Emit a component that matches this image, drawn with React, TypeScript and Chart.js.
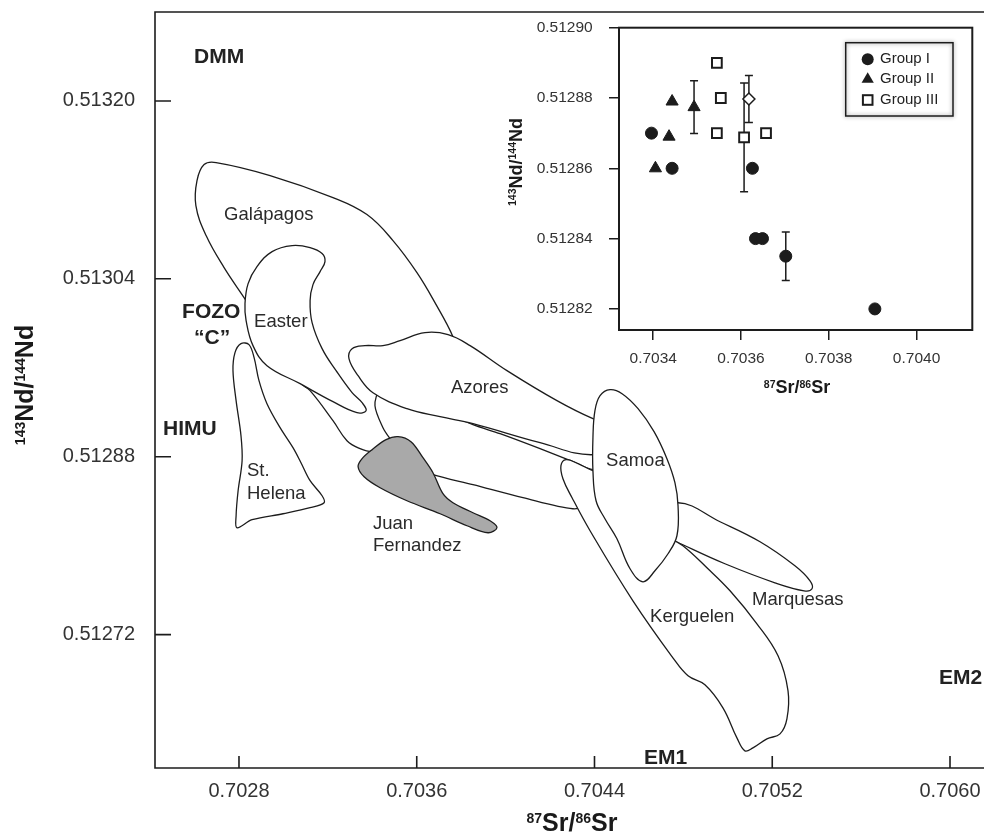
import React, { useEffect, useRef } from "react";
import { Chart, registerables } from "chart.js";

Chart.register(...registerables);

const FONT = '"Liberation Sans", Arial, Helvetica, sans-serif';
const INK = "#1c1c1c";
const TEXT = "#2a2a2a";

type Pair = [number, number];

// ---------- main diagram: axis ticks ----------
const srTicks = [0.7028, 0.7036, 0.7044, 0.7052, 0.706];
const ndTicks = [0.51272, 0.51288, 0.51304, 0.5132];

// ---------- OIB fields: outline vertices as [87Sr/86Sr, 143Nd/144Nd] ----------
const galapagos: Pair[] = [
  [0.703705, 0.5129556], [0.703547, 0.5129034], [0.703457, 0.5128872], [0.703399, 0.5128845],
  [0.703345, 0.5128872], [0.703286, 0.5128944], [0.703223, 0.5129124], [0.70312, 0.5129394],
  [0.703075, 0.5129466], [0.702949, 0.5129844], [0.702832, 0.5130204], [0.702733, 0.5130501],
  [0.702652, 0.5130789], [0.702606, 0.5131059], [0.702611, 0.5131284], [0.702643, 0.5131428],
  [0.702697, 0.5131446], [0.70294, 0.5131329], [0.703223, 0.5131131], [0.703376, 0.5130978],
  [0.703493, 0.5130744], [0.703601, 0.5130456], [0.703682, 0.5130186], [0.703763, 0.512988],
  [0.703786, 0.5129709],
];

const centralField: Pair[] = [
  [0.704492, 0.5128674], [0.704393, 0.5128683], [0.704303, 0.5128755], [0.704155, 0.5128872],
  [0.703975, 0.5129007], [0.703853, 0.5129088], [0.703705, 0.5129214], [0.703525, 0.512934],
  [0.703435, 0.5129394], [0.703412, 0.5129259], [0.703448, 0.5129061], [0.70348, 0.5128962],
  [0.703547, 0.5128791], [0.703651, 0.5128674], [0.703673, 0.5128638], [0.703853, 0.5128548],
  [0.704078, 0.5128431], [0.704303, 0.5128332], [0.704389, 0.5128386],
];

const azores: Pair[] = [
  [0.704515, 0.5128944], [0.704393, 0.5128818], [0.704155, 0.5128926], [0.703853, 0.5129097],
  [0.703705, 0.512916], [0.703556, 0.5129232], [0.703403, 0.5129376], [0.703336, 0.5129529],
  [0.703295, 0.5129682], [0.703309, 0.5129772], [0.703367, 0.5129799], [0.703448, 0.5129799],
  [0.703525, 0.5129844], [0.703637, 0.5129916], [0.703741, 0.5129898], [0.70384, 0.5129799],
  [0.704006, 0.5129574], [0.704231, 0.5129304], [0.704393, 0.5129142], [0.704492, 0.5129079],
];

const easter: Pair[] = [
  [0.703372, 0.5129214], [0.703331, 0.5129196], [0.703223, 0.5129295], [0.703075, 0.5129457],
  [0.702926, 0.5129619], [0.702863, 0.5129799], [0.702832, 0.5130024], [0.702827, 0.5130177],
  [0.702841, 0.5130357], [0.702881, 0.513051], [0.702949, 0.5130645], [0.703039, 0.5130699],
  [0.70312, 0.5130681], [0.703174, 0.5130627], [0.703187, 0.5130555], [0.703165, 0.5130465],
  [0.703133, 0.5130348], [0.70312, 0.5130204], [0.703129, 0.5130006], [0.703174, 0.5129772],
  [0.703237, 0.5129574], [0.703309, 0.5129376], [0.703354, 0.5129286],
];

const stHelena: Pair[] = [
  [0.702791, 0.5128161], [0.702859, 0.5128233], [0.702998, 0.5128287], [0.70312, 0.5128341],
  [0.703183, 0.5128386], [0.703174, 0.5128449], [0.70312, 0.5128584], [0.703079, 0.5128746],
  [0.703043, 0.5128881], [0.702985, 0.5129061], [0.702926, 0.5129277], [0.70289, 0.5129484],
  [0.702868, 0.5129691], [0.702845, 0.5129808], [0.702809, 0.5129817], [0.702782, 0.5129736],
  [0.702773, 0.5129574], [0.702787, 0.5129304], [0.702809, 0.5128989], [0.702814, 0.5128764],
  [0.702796, 0.5128494], [0.702787, 0.5128269],
];

const marquesas: Pair[] = [
  [0.704695, 0.5128224], [0.704776, 0.5128386], [0.704965, 0.5128215], [0.705145, 0.5128035],
  [0.705302, 0.5127819], [0.70537, 0.5127684], [0.705379, 0.5127612], [0.705343, 0.5127594],
  [0.705212, 0.5127666], [0.704987, 0.5127837], [0.704798, 0.5128008], [0.704717, 0.5128089],
];

const kerguelen: Pair[] = [
  [0.704537, 0.5128584], [0.704393, 0.5128674], [0.704326, 0.5128737], [0.704272, 0.5128773],
  [0.704249, 0.5128719], [0.704258, 0.5128602], [0.704299, 0.5128431], [0.70438, 0.5128134],
  [0.704573, 0.5127504], [0.704753, 0.5126991], [0.704821, 0.5126829], [0.704897, 0.5126748],
  [0.704978, 0.5126541], [0.705041, 0.5126271], [0.705077, 0.5126154], [0.705113, 0.5126181],
  [0.705176, 0.5126262], [0.705235, 0.5126307], [0.705266, 0.5126442], [0.705271, 0.5126694],
  [0.705226, 0.5127009], [0.705131, 0.5127297], [0.70501, 0.5127594], [0.704906, 0.5127801],
  [0.704798, 0.5127999], [0.704695, 0.5128134],
];

const samoa: Pair[] = [
  [0.704618, 0.5127675], [0.70456, 0.5127792], [0.704501, 0.5128062], [0.704447, 0.5128242],
  [0.704407, 0.5128404], [0.704393, 0.5128674], [0.704393, 0.5128971], [0.704402, 0.5129214],
  [0.704425, 0.5129349], [0.70447, 0.5129403], [0.704524, 0.5129367], [0.704596, 0.5129232],
  [0.704668, 0.5129025], [0.704726, 0.5128782], [0.704762, 0.5128566], [0.704776, 0.5128359],
  [0.704771, 0.5128089], [0.704731, 0.5127927], [0.704672, 0.5127774],
];

const juanFernandez: Pair[] = [
  [0.703961, 0.5128161], [0.703921, 0.5128116], [0.703826, 0.5128179], [0.703705, 0.5128287],
  [0.703556, 0.5128404], [0.703435, 0.5128521], [0.703363, 0.512862], [0.703336, 0.512871],
  [0.703354, 0.5128782], [0.703399, 0.5128863], [0.703462, 0.5128953], [0.703516, 0.512898],
  [0.703574, 0.5128935], [0.703628, 0.5128791], [0.703673, 0.5128656], [0.703718, 0.5128467],
  [0.703763, 0.5128386], [0.703853, 0.5128296], [0.70393, 0.5128224],
];

// field names, anchored at their left end
const fieldLabels = [
  { text: "Galápagos", sr: 0.702733, nd: 0.5130978 },
  { text: "Easter", sr: 0.702868, nd: 0.5130015 },
  { text: "Azores", sr: 0.703754, nd: 0.5129421 },
  { text: "St.", sr: 0.702836, nd: 0.5128674 },
  { text: "Helena", sr: 0.702836, nd: 0.5128467 },
  { text: "Juan", sr: 0.703403, nd: 0.5128197 },
  { text: "Fernandez", sr: 0.703403, nd: 0.5127999 },
  { text: "Samoa", sr: 0.704452, nd: 0.5128764 },
  { text: "Marquesas", sr: 0.705109, nd: 0.5127513 },
  { text: "Kerguelen", sr: 0.70465, nd: 0.512736 },
];

// mantle end-members
const endMembers = [
  { text: "DMM", sr: 0.702598, nd: 0.5132391, align: "left" },
  { text: "FOZO", sr: 0.702544, nd: 0.5130096, align: "left" },
  { text: "“C”", sr: 0.702679, nd: 0.5129862, align: "center" },
  { text: "HIMU", sr: 0.702458, nd: 0.5129043, align: "left" },
  { text: "EM1", sr: 0.704623, nd: 0.5126091, align: "left" },
  { text: "EM2", sr: 0.70595, nd: 0.5126811, align: "left" },
];

// ---------- inset: Juan Fernandez samples ----------
const insetSrTicks = [0.7034, 0.7036, 0.7038, 0.704];
const insetNdTicks = [0.51282, 0.51284, 0.51286, 0.51288, 0.5129];

const groupISr = [0.703396, 0.703443, 0.703626, 0.703633, 0.703649, 0.703702, 0.703905];
const groupINd = [0.51287, 0.51286, 0.51286, 0.51284, 0.51284, 0.512835, 0.51282];
const groupIErr = [0, 0, 0, 0, 0, 0.0000069, 0];

const groupIISr = [0.703443, 0.703436, 0.703405, 0.703493];
const groupIINd = [0.512879, 0.512869, 0.51286, 0.5128774];
const groupIIErr = [0, 0, 0, 0.0000075];

const groupIIISr = [0.703545, 0.703554, 0.703545, 0.703607, 0.703657];
const groupIIINd = [0.51289, 0.51288, 0.51287, 0.5128688, 0.51287];
const groupIIIErr = [0, 0, 0, 0.0000155, 0];

const meanSr = [0.703618];
const meanNd = [0.5128797];
const meanErr = [0.0000067];

type Run = [string, boolean];
const ndTitle: Run[] = [["143", true], ["Nd/", false], ["144", true], ["Nd", false]];
const srTitle: Run[] = [["87", true], ["Sr/", false], ["86", true], ["Sr", false]];

function drawRuns(ctx: CanvasRenderingContext2D, runs: Run[], cx: number, baseline: number, size: number, supSize: number) {
  const main = `bold ${size}px ${FONT}`;
  const sup = `bold ${supSize}px ${FONT}`;
  const widths = runs.map(([t, s]) => {
    ctx.font = s ? sup : main;
    return ctx.measureText(t).width;
  });
  const total = widths.reduce((a, b) => a + b, 0);
  const rise = 0.716 * (size - supSize);
  let x = cx - total / 2;
  ctx.textAlign = "left";
  ctx.textBaseline = "alphabetic";
  runs.forEach(([t, s], i) => {
    ctx.font = s ? sup : main;
    ctx.fillText(t, x, s ? baseline - rise : baseline);
    x += widths[i];
  });
}

// fixed axis box sizes; label overhang must not shrink the plot area
const fixWidth = (w: number) => (s: any) => {
  s.width = w;
  s.paddingTop = 0;
  s.paddingBottom = 0;
  s.paddingLeft = 0;
  s.paddingRight = 0;
};
const fixHeight = (h: number) => (s: any) => {
  s.height = h;
  s.paddingTop = 0;
  s.paddingBottom = 0;
  s.paddingLeft = 0;
  s.paddingRight = 0;
};

// Turns every line dataset into a closed, smoothly joined outline.
const closedOutlines = {
  id: "closedOutlines",
  afterDatasetsUpdate(chart: any) {
    chart.data.datasets.forEach((_: any, i: number) => {
      const line = chart.getDatasetMeta(i).dataset;
      if (line) {
        line._loop = true;
        line._fullLoop = true;
        line._segments = undefined;
        line._path = undefined;
        line._pointsUpdated = false;
      }
    });
  },
};

const mainDecor = {
  id: "mainDecor",
  afterDatasetsDraw(chart: any) {
    const { ctx, scales } = chart;
    const x = scales.x;
    const y = scales.y;
    ctx.save();
    ctx.fillStyle = TEXT;
    ctx.textBaseline = "middle";
    ctx.textAlign = "left";
    ctx.font = `18.5px ${FONT}`;
    fieldLabels.forEach((l) => ctx.fillText(l.text, x.getPixelForValue(l.sr), y.getPixelForValue(l.nd)));
    ctx.font = `bold 21px ${FONT}`;
    ctx.fillStyle = "#222";
    endMembers.forEach((l) => {
      ctx.textAlign = l.align;
      ctx.fillText(l.text, x.getPixelForValue(l.sr), y.getPixelForValue(l.nd));
    });
    ctx.restore();
  },
  afterDraw(chart: any) {
    const { ctx, chartArea: a, scales } = chart;
    const x = scales.x;
    const y = scales.y;
    ctx.save();
    ctx.strokeStyle = INK;
    ctx.lineWidth = 1.6;
    ctx.beginPath();
    ctx.moveTo(a.right + 2, a.top);
    ctx.lineTo(a.left, a.top);
    ctx.lineTo(a.left, a.bottom);
    ctx.lineTo(a.right + 2, a.bottom);
    srTicks.forEach((v) => {
      const px = x.getPixelForValue(v);
      ctx.moveTo(px, a.bottom);
      ctx.lineTo(px, a.bottom - 12);
    });
    ndTicks.forEach((v) => {
      const py = y.getPixelForValue(v);
      ctx.moveTo(a.left, py);
      ctx.lineTo(a.left + 16, py);
    });
    ctx.stroke();

    ctx.fillStyle = "#1a1a1a";
    drawRuns(ctx, srTitle, 572, 831, 25, 14);
    ctx.save();
    ctx.translate(33, 385);
    ctx.rotate(-Math.PI / 2);
    drawRuns(ctx, ndTitle, 0, 0, 25, 14);
    ctx.restore();
    ctx.restore();
  },
};

function MainDiagram() {
  const ref = useRef<HTMLCanvasElement>(null);
  useEffect(() => {
    const canvas = ref.current;
    if (!canvas) return;
    const layers = [
      { pts: galapagos, fill: "#ffffff", tension: 0.4 },
      { pts: centralField, fill: "#ffffff", tension: 0.3 },
      { pts: azores, fill: "#ffffff", tension: 0.4 },
      { pts: easter, fill: "#ffffff", tension: 0.4 },
      { pts: stHelena, fill: "#ffffff", tension: 0.35 },
      { pts: marquesas, fill: "#ffffff", tension: 0.4 },
      { pts: kerguelen, fill: "#ffffff", tension: 0.4 },
      { pts: samoa, fill: "#ffffff", tension: 0.4 },
      { pts: juanFernandez, fill: "#a9a9a9", tension: 0.35 },
    ];
    const chart = new Chart(canvas, {
      type: "line",
      data: {
        datasets: layers.map((l, i) => ({
          data: l.pts.map(([sr, nd]) => ({ x: sr, y: nd })),
          borderColor: INK,
          borderWidth: 1.3,
          backgroundColor: l.fill,
          fill: "shape",
          pointRadius: 0,
          pointHoverRadius: 0,
          tension: l.tension,
          order: layers.length - i,
        })),
      },
      options: {
        responsive: false,
        animation: false,
        events: [],
        layout: { padding: { top: 12, left: 0, right: 0, bottom: 0 } },
        plugins: { legend: { display: false }, tooltip: { enabled: false } },
        scales: {
          x: {
            type: "linear",
            min: 0.702422,
            max: 0.706153,
            afterBuildTicks: (s: any) => {
              s.ticks = srTicks.map((value) => ({ value }));
            },
            afterFit: fixHeight(67),
            ticks: {
              callback: (v: any) => Number(v).toFixed(4),
              font: { family: FONT, size: 20 },
              color: "#333",
              padding: 11,
              autoSkip: false,
              maxRotation: 0,
            },
            grid: { display: false, drawTicks: false, tickLength: 0 },
            border: { display: false },
          },
          y: {
            type: "linear",
            min: 0.5126,
            max: 0.51328,
            afterBuildTicks: (s: any) => {
              s.ticks = ndTicks.map((value) => ({ value }));
            },
            afterFit: fixWidth(155),
            ticks: {
              callback: (v: any) => Number(v).toFixed(5),
              font: { family: FONT, size: 20 },
              color: "#333",
              padding: 20,
              autoSkip: false,
            },
            grid: { display: false, drawTicks: false, tickLength: 0 },
            border: { display: false },
          },
        },
      },
      plugins: [closedOutlines, mainDecor],
    } as any);
    return () => chart.destroy();
  }, []);
  return <canvas ref={ref} width={984} height={835} style={{ position: "absolute", left: 0, top: 0 }} />;
}

const toPoints = (xs: number[], ys: number[]) => xs.map((x, i) => ({ x, y: ys[i] }));
const errorSets = [groupIErr, groupIIErr, groupIIIErr, meanErr];

const insetDecor = {
  id: "insetDecor",
  beforeDatasetsDraw(chart: any) {
    const { ctx, scales } = chart;
    const x = scales.x;
    const y = scales.y;
    ctx.save();
    ctx.strokeStyle = INK;
    ctx.lineWidth = 1.5;
    ctx.beginPath();
    chart.data.datasets.forEach((ds: any, i: number) => {
      ds.data.forEach((p: any, j: number) => {
        const e = errorSets[i][j];
        if (!e) return;
        const px = x.getPixelForValue(p.x);
        const top = y.getPixelForValue(p.y + e);
        const bot = y.getPixelForValue(p.y - e);
        ctx.moveTo(px, top);
        ctx.lineTo(px, bot);
        ctx.moveTo(px - 4, top);
        ctx.lineTo(px + 4, top);
        ctx.moveTo(px - 4, bot);
        ctx.lineTo(px + 4, bot);
      });
    });
    ctx.stroke();
    ctx.restore();
  },
  afterDraw(chart: any) {
    const { ctx, chartArea: a } = chart;
    ctx.save();
    ctx.strokeStyle = INK;
    ctx.lineWidth = 2;
    ctx.strokeRect(a.left, a.top, a.right - a.left, a.bottom - a.top);

    // legend box
    const bx = a.right - 126.6;
    const by = a.top + 15;
    const bw = 107.3;
    const bh = 73.3;
    ctx.fillStyle = "#fff";
    ctx.fillRect(bx, by, bw, bh);
    ctx.save();
    ctx.shadowColor = "rgba(0,0,0,0.45)";
    ctx.shadowBlur = 4;
    ctx.lineWidth = 1.5;
    ctx.strokeRect(bx, by, bw, bh);
    ctx.restore();

    const mx = bx + 22;
    const tx = bx + 34.3;
    const rows = [by + 16.6, by + 36.6, by + 57.3];
    ctx.fillStyle = INK;
    ctx.beginPath();
    ctx.arc(mx, rows[0], 6, 0, Math.PI * 2);
    ctx.fill();
    ctx.beginPath();
    ctx.moveTo(mx, rows[1] - 7);
    ctx.lineTo(mx + 6.1, rows[1] + 3.5);
    ctx.lineTo(mx - 6.1, rows[1] + 3.5);
    ctx.closePath();
    ctx.fill();
    ctx.fillStyle = "#fff";
    ctx.lineWidth = 2;
    ctx.fillRect(mx - 4.8, rows[2] - 4.8, 9.6, 9.6);
    ctx.strokeRect(mx - 4.8, rows[2] - 4.8, 9.6, 9.6);

    ctx.fillStyle = "#222";
    ctx.font = `15px ${FONT}`;
    ctx.textAlign = "left";
    ctx.textBaseline = "middle";
    ctx.fillText("Group I", tx, rows[0]);
    ctx.fillText("Group II", tx, rows[1]);
    ctx.fillText("Group III", tx, rows[2]);

    ctx.fillStyle = "#1a1a1a";
    drawRuns(ctx, srTitle, 301, 393, 18, 10.5);
    ctx.save();
    ctx.translate(25.7, 162);
    ctx.rotate(-Math.PI / 2);
    drawRuns(ctx, ndTitle, 0, 0, 18, 10.5);
    ctx.restore();
    ctx.restore();
  },
};

function Inset() {
  const ref = useRef<HTMLCanvasElement>(null);
  useEffect(() => {
    const canvas = ref.current;
    if (!canvas) return;
    const chart = new Chart(canvas, {
      type: "scatter",
      data: {
        datasets: [
          { label: "Group I", data: toPoints(groupISr, groupINd), pointStyle: "circle", pointRadius: 6, backgroundColor: INK, borderColor: INK, borderWidth: 1 },
          { label: "Group II", data: toPoints(groupIISr, groupIINd), pointStyle: "triangle", pointRadius: 7, backgroundColor: INK, borderColor: INK, borderWidth: 1 },
          { label: "Group III", data: toPoints(groupIIISr, groupIIINd), pointStyle: "rect", pointRadius: 6.9, backgroundColor: "#fff", borderColor: INK, borderWidth: 2 },
          { label: "Mean", data: toPoints(meanSr, meanNd), pointStyle: "rectRot", pointRadius: 6, backgroundColor: "#fff", borderColor: INK, borderWidth: 1.5 },
        ],
      },
      options: {
        responsive: false,
        animation: false,
        events: [],
        layout: { padding: { top: 27.7, right: 11.7, left: 0, bottom: 0 } },
        plugins: { legend: { display: false }, tooltip: { enabled: false } },
        scales: {
          x: {
            type: "linear",
            min: 0.703322,
            max: 0.704127,
            afterBuildTicks: (s: any) => {
              s.ticks = insetSrTicks.map((value) => ({ value }));
            },
            afterFit: fixHeight(70),
            ticks: {
              callback: (v: any) => Number(v).toFixed(4),
              font: { family: FONT, size: 15.5 },
              color: "#333",
              padding: 9,
              autoSkip: false,
              maxRotation: 0,
            },
            grid: { display: true, drawOnChartArea: false, drawTicks: true, tickLength: 10, color: INK, lineWidth: 1.5 },
            border: { display: false },
          },
          y: {
            type: "linear",
            min: 0.512814,
            max: 0.5129,
            afterBuildTicks: (s: any) => {
              s.ticks = insetNdTicks.map((value) => ({ value }));
            },
            afterFit: fixWidth(123),
            ticks: {
              callback: (v: any) => Number(v).toFixed(5),
              font: { family: FONT, size: 15.5 },
              color: "#333",
              padding: 16.3,
              autoSkip: false,
            },
            grid: { display: true, drawOnChartArea: false, drawTicks: true, tickLength: 10, color: INK, lineWidth: 1.5 },
            border: { display: false },
          },
        },
      },
      plugins: [insetDecor],
    } as any);
    return () => chart.destroy();
  }, []);
  return <canvas ref={ref} width={488} height={400} style={{ position: "absolute", left: 496, top: 0 }} />;
}

export default function App() {
  useEffect(() => {
    document.body.style.margin = "0";
    document.body.style.overflow = "hidden";
  }, []);
  return (
    <div style={{ position: "absolute", left: 0, top: 0, width: 984, height: 835, background: "#fff", overflow: "hidden" }}>
      <MainDiagram />
      <Inset />
    </div>
  );
}
